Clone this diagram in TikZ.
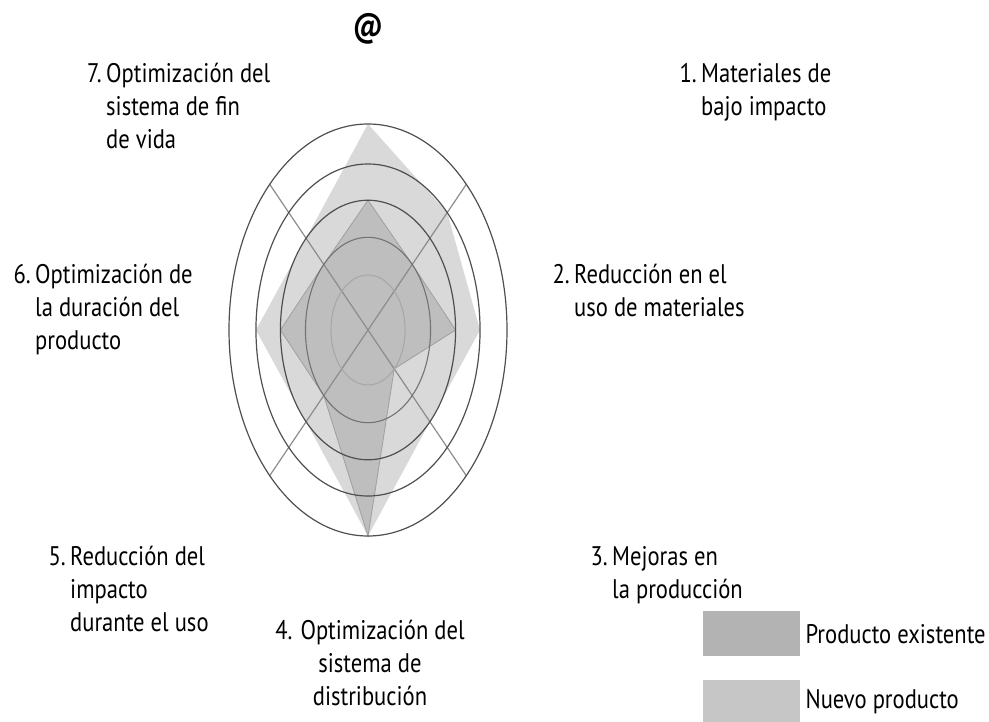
\documentclass[tikz,border=0pt]{standalone}
\usepackage{fontspec}
\setmainfont{PT Sans}[FakeStretch=0.84]
\usetikzlibrary{positioning}

\definecolor{nuevo}{HTML}{D9D9D9}
\definecolor{exist}{HTML}{BEBEBE}
\definecolor{keynuevo}{HTML}{C6C6C6}
\definecolor{keyexist}{HTML}{B3B3B3}
\definecolor{ringdark}{HTML}{4F4F4F}
\definecolor{axisgray}{HTML}{8C8C8C}

\tikzstyle{lbl} = [align=left, anchor=north west, inner sep=0pt,
    font=\fontsize{27}{33}\selectfont]
\tikzstyle{ring} = [draw=ringdark, line width=1.2bp]
\tikzstyle{key} = [rectangle, minimum width=97bp, minimum height=45bp, inner sep=0pt]
\newcommand{\itemno}[1]{\llap{#1\,}}

\begin{document}
\begin{tikzpicture}[x=1bp,y=-1bp]
  \useasboundingbox (0,0) rectangle (989,722);

  % wheel: unit circle becomes the outer ellipse
  \begin{scope}[shift={(368,330)},x=139bp,y=206bp]
    \fill[nuevo] (90:1) -- (45:0.806) -- (0:0.806) -- (-45:0.63) -- (-90:1)
      -- (-135:0.63) -- (180:0.806) -- (135:0.63) -- cycle;
    \filldraw[fill=exist, draw=gray!75, line width=0.8bp] (90:0.63) -- (45:0.45)
      -- (0:0.63) -- (-45:0.267) -- (-90:1) -- (-135:0.45) -- (180:0.63)
      -- (135:0.45) -- cycle;
    \draw[axisgray, line width=1.2bp] (45:1) -- (-135:1);
    \draw[axisgray, line width=1.2bp] (135:1) -- (-45:1);
    \draw[gray!70, line width=1bp] (0,0) circle (0.267);
    \draw[gray!90!black, line width=1.1bp] (0,0) circle (0.45);
    \foreach \r in {0.63,0.806,1}
      \draw[ring] (0,0) circle (\r);
  \end{scope}

  \node (0) at (368,29) {\fontsize{34}{34}\selectfont\bfseries @};
  \node[lbl] (1) at (701,63) {\itemno{1.}Materiales de\\bajo impacto};
  \node[lbl] (2) at (574,264) {\itemno{2.}Reducción en el\\uso de materiales};
  \node[lbl] (3) at (612,546) {\itemno{3.}Mejoras en\\la producción};
  \node[lbl, align=center, anchor=north] (4) at (370,620)
    {4. Optimización del\\sistema de\\distribución};
  \node[lbl] (5) at (70,546) {\itemno{5.}Reducción del\\impacto\\durante el uso};
  \node[lbl] (6) at (35,264) {\itemno{6.}Optimización de\\la duración del\\producto};
  \node[lbl] (7) at (106,63) {\itemno{7.}Optimización del\\sistema de fin\\de vida};

  % legend
  \node[key, fill=keyexist, anchor=north west] (k1) at (703,611) {};
  \node[key, fill=keynuevo, below=23bp of k1] (k2) {};
  \node[lbl, right=5bp of k1] (t1) {Producto existente};
  \node[lbl, right=5bp of k2] (t2) {Nuevo producto};
\end{tikzpicture}
\end{document}
